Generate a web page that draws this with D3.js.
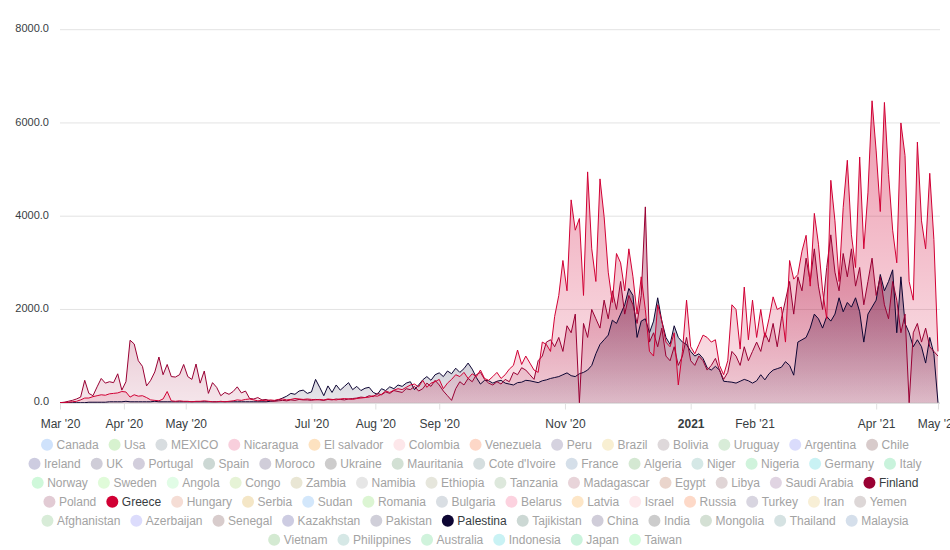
<!DOCTYPE html>
<html><head><meta charset="utf-8">
<script src="https://cdn.jsdelivr.net/npm/d3@7"></script>
<style>
html,body{margin:0;padding:0;background:#fff;}
svg{display:block;font-family:"Liberation Sans",Arial,Helvetica,sans-serif;}
</style></head><body>
<svg id="chart" width="950" height="550"></svg>
<script>
// ---- data: values every 2 days starting 2020-03-01 ----
const startDate = "2020-03-01";
const stepDays = 2;
const greece = [
0,0,10,20,30,60,100,100,130,150,
170,160,190,200,210,240,230,120,170,140,
150,110,60,50,40,80,240,40,30,40,
30,30,20,30,30,40,30,20,20,30,
20,30,40,60,50,70,80,60,40,50,
40,60,50,70,80,60,70,90,80,70,
80,70,60,70,60,80,70,60,80,90,
80,70,90,100,110,120,150,140,180,250,
220,270,300,280,330,380,400,340,480,330,
420,450,500,300,420,500,600,560,650,520,
620,560,700,520,480,560,650,520,600,720,
800,1130,820,1000,850,700,650,1300,1250,1100,
1850,2300,3050,2400,4350,3700,3950,2300,4950,3300,
2600,4800,3990,2800,2150,3200,3000,2400,3300,2700,
1900,2700,2000,1100,1000,2100,1750,1300,1200,1500,
380,1100,2200,1200,1050,1250,1450,1400,1300,1350,
800,600,900,2100,2000,1150,2480,1350,2200,1400,
2000,1400,1800,2270,2000,2050,1300,3050,2650,2750,
3250,3590,2500,4060,3400,2400,1800,4770,3900,2600,
4190,5200,3600,2900,5270,3300,4500,6475,5400,4100,
6440,4900,3700,3000,6000,5300,2600,2200,5590,3900,
3300,4920,3500,1100];
const finland = [
0,10,30,50,80,120,480,200,150,340,
520,420,450,430,620,270,450,1340,1260,900,
780,360,480,660,980,600,820,560,550,600,
820,560,500,830,420,680,200,430,330,150,
220,180,240,340,210,250,90,80,110,60,
70,40,30,40,50,40,60,50,70,60,
60,50,70,60,50,70,60,80,70,60,
80,90,100,120,110,150,130,200,170,230,
200,260,240,220,300,280,350,250,300,420,
350,480,380,250,150,50,300,450,380,520,
450,600,650,500,420,380,450,400,500,450,
650,600,750,700,600,500,900,1000,1300,1350,
1200,1400,1100,1650,1500,1900,0,1700,1400,2000,
1800,1600,2200,1800,2400,2000,2600,1900,2300,2100,
1700,2300,4200,1300,1500,1200,1600,1000,900,1200,
800,1000,1400,900,800,1000,900,700,800,950,
700,500,650,1100,1000,800,1200,900,1100,1300,
1100,1500,1300,1700,1200,1800,2200,2600,1900,2700,
2400,3100,2600,3300,2500,2000,2900,3600,2800,2400,
3200,2700,3300,2500,2900,2100,2600,3100,2300,2700,
2100,1800,2600,2200,1500,1900,0,1500,1700,1300,
1600,1200,1100,1000];
const palestina = [
0,0,0,0,0,0,0,10,10,10,
10,10,20,20,20,20,30,20,20,20,
20,20,20,30,20,20,20,20,20,20,
20,20,20,20,20,20,20,20,20,20,
20,20,20,20,20,20,20,20,20,20,
20,30,40,60,100,140,200,180,250,270,
200,230,500,330,150,360,220,380,270,350,
430,280,350,260,310,330,220,180,300,260,
340,300,380,350,420,450,280,380,490,560,
480,600,640,560,680,620,740,650,730,850,
720,540,400,480,470,420,460,480,420,400,
380,430,440,480,470,450,430,470,490,520,
540,560,600,640,580,560,620,650,700,800,
1050,1250,1350,1450,1770,1700,1900,2100,2450,2300,
1400,1750,1800,1500,1750,2250,1750,1400,1250,1650,
1400,1300,1250,1100,1000,1050,950,750,700,780,
700,460,450,440,420,460,500,470,420,470,
600,490,620,700,730,760,880,800,590,1300,
1350,1400,1600,1900,1800,1600,1850,1750,1900,2250,
1950,2150,2050,2250,1950,1300,1900,2050,2200,2750,
2400,2600,2850,1500,2700,1700,1500,1200,1350,1200,
850,1400,1050,0];

const seriesNames = ["Palestina","Finland","Greece"];
const seriesColors = ["#0d0533","#990033","#d10034"];

const yTicks = [0,2000,4000,6000,8000];
const xTickDates = ["2020-03-01","2020-04-01","2020-05-01","2020-07-01","2020-08-01","2020-09-01","2020-11-01","2021-01-01","2021-02-01","2021-04-01","2021-05-01"];
const xTickLabels = ["Mar '20","Apr '20","May '20","Jul '20","Aug '20","Sep '20","Nov '20","2021","Feb '21","Apr '21","May '21"];

const legendRows = [
 ["Canada","Usa","MEXICO","Nicaragua","El salvador","Colombia","Venezuela","Peru","Brazil","Bolivia","Uruguay","Argentina","Chile"],
 ["Ireland","UK","Portugal","Spain","Moroco","Ukraine","Mauritania","Cote d'Ivoire","France","Algeria","Niger","Nigeria","Germany","Italy"],
 ["Norway","Sweden","Angola","Congo","Zambia","Namibia","Ethiopia","Tanzania","Madagascar","Egypt","Libya","Saudi Arabia","Finland"],
 ["Poland","Greece","Hungary","Serbia","Sudan","Romania","Bulgaria","Belarus","Latvia","Israel","Russia","Turkey","Iran","Yemen"],
 ["Afghanistan","Azerbaijan","Senegal","Kazakhstan","Pakistan","Palestina","Tajikistan","China","India","Mongolia","Thailand","Malaysia"],
 ["Vietnam","Philippines","Australia","Indonesia","Japan","Taiwan"]
];
const legendColors = [
 ["#cfe2fb","#d7f2cf","#d8dde0","#f8cfdc","#fde2c0","#fde7ea","#fdd7c7","#d5d2df","#f8efd2","#ded8da","#d8ecd8","#dadcfc","#d8cbcb"],
 ["#cdcce0","#cfcdd8","#d2cedc","#ccd8d4","#d0cdd9","#cdcccc","#d2e0d4","#d5dedf","#d5dfe9","#d4e8d2","#d5e8e6","#d0f3dc","#c9f2f4","#c9f3dc"],
 ["#cff8da","#e0fbd9","#e1fce6","#e6f3d6","#e9e6d4","#e6e6e6","#e6e6dc","#dde8dc","#e8d4d9","#ead5cc","#e0d5d6","#e0d4e2","#990033"],
 ["#e2cbd4","#d10034","#f5ddd5","#f4e6c6","#d3e7fb","#dcf5d3","#d9dee3","#fcd2df","#fde6c7","#fde9ec","#fdd9c8","#d8d5e0","#f8efd6","#ddd7d7"],
 ["#d8ecd8","#dcdcfc","#d8cccc","#cdcce2","#d0cfd9","#0d0533","#ccd8d4","#d0cdd9","#cccccc","#d4e0d4","#d5e2e2","#d5dfeb"],
 ["#d4ead2","#d6e8e6","#d0f3dc","#c9f2f4","#caf3dc","#d2fbdb"]
];

// ---- drawing ----
const svg = d3.select("#chart");
const parse = d3.utcParse("%Y-%m-%d");
const t0 = parse(startDate);
const dateAt = i => d3.utcDay.offset(t0, i * stepDays);

const x = d3.scaleUtc().domain([parse("2020-03-01"), parse("2021-05-01")]).range([60, 938]);
const y = d3.scaleLinear().domain([0, 8000]).range([402.7, 29.7]);

// grid
svg.append("g").selectAll("line").data(yTicks).join("line")
  .attr("x1", 60).attr("x2", 940)
  .attr("y1", d => y(d)).attr("y2", d => y(d))
  .attr("stroke", "#e3e3e3").attr("stroke-width", 1);

// y axis labels
const yAxis = svg.append("g").attr("transform", "translate(60,0)")
  .call(d3.axisLeft(y).tickValues(yTicks).tickSize(0).tickPadding(11).tickFormat(d3.format(".1f")));
yAxis.select(".domain").remove();
yAxis.selectAll("text").attr("font-size", 11).attr("fill", "#373d3f")
  .attr("font-family", "Liberation Sans, Arial, sans-serif").attr("dy", "0.2em");

// gradients
const defs = svg.append("defs");
seriesColors.forEach((c, k) => {
  const g = defs.append("linearGradient").attr("id", "grad" + k)
    .attr("x1", 0).attr("y1", 0).attr("x2", 0).attr("y2", 1);
  g.append("stop").attr("offset", "0%").attr("stop-color", c).attr("stop-opacity", 0.4);
  g.append("stop").attr("offset", "100%").attr("stop-color", c).attr("stop-opacity", 0.1);
});

const seriesData = [palestina, finland, greece];
const area = d3.area().x((d, i) => x(dateAt(i))).y0(y(0)).y1(d => y(d));
const line = d3.line().x((d, i) => x(dateAt(i))).y(d => y(d));

const plot = svg.append("g");
seriesData.forEach((s, k) => {
  plot.append("path").attr("d", area(s)).attr("fill", `url(#grad${k})`);
});
seriesData.forEach((s, k) => {
  plot.append("path").attr("d", line(s)).attr("fill", "none")
    .attr("stroke", seriesColors[k]).attr("stroke-width", 1).attr("stroke-linejoin", "round");
});

// x axis
const tickDates = xTickDates.map(parse);
const xAxis = svg.append("g").attr("transform", "translate(0,403.5)")
  .call(d3.axisBottom(x).tickValues(tickDates).tickSize(6).tickPadding(10)
    .tickFormat((d, i) => xTickLabels[i]));
xAxis.select(".domain").attr("stroke", "#e0e0e0").attr("d", "M60,0H940");
xAxis.selectAll(".tick line").attr("stroke", "#e0e0e0");
xAxis.selectAll("text").attr("font-size", 12).attr("fill", "#373d3f")
  .attr("font-family", "Liberation Sans, Arial, sans-serif")
  .attr("font-weight", (d, i) => xTickLabels[i] === "2021" ? "bold" : "normal");

// legend
const active = new Set(seriesNames);
const legend = svg.append("g").attr("font-size", 12);
const rowY = [444.7, 463.7, 482.7, 501.7, 520.7, 539.7];
legendRows.forEach((row, r) => {
  const rg = legend.append("g");
  let cx = 0;
  row.forEach((name, j) => {
    const ig = rg.append("g").attr("transform", `translate(${cx},0)`);
    ig.append("circle").attr("cx", 6).attr("cy", 0).attr("r", 6).attr("fill", legendColors[r][j]);
    const tx = ig.append("text").attr("x", 15.5).attr("y", 4.3).text(name)
      .attr("fill", active.has(name) ? "#373d3f" : "#a3a3a3");
    const w = tx.node().getComputedTextLength();
    cx += 15.5 + w + 10;
  });
  const total = cx - 10;
  rg.attr("transform", `translate(${475 - total / 2},${rowY[r]})`);
});
</script>
</body></html>
